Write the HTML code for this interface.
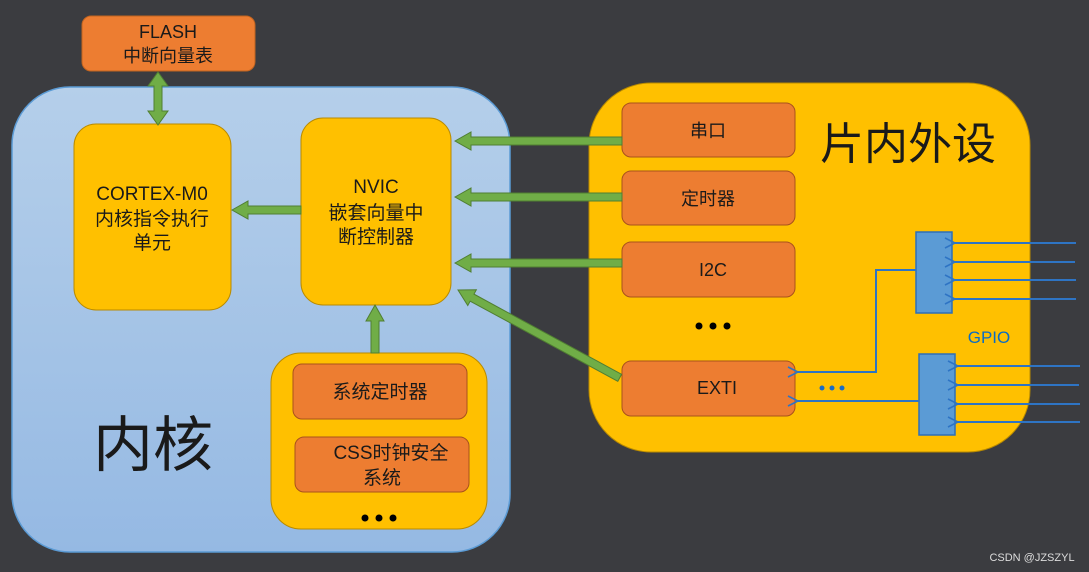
<!DOCTYPE html>
<html><head><meta charset="utf-8"><style>
body{margin:0;background:#3b3c40;}
svg{display:block}
text{font-family:"Liberation Sans","Noto Sans CJK SC",sans-serif;fill:#1a1a1a;text-anchor:middle}
</style></head><body>
<svg width="1089" height="572" viewBox="0 0 1089 572" xmlns="http://www.w3.org/2000/svg">
<defs>
<linearGradient id="bg" x1="0" y1="0" x2="0" y2="1"><stop offset="0" stop-color="#b5cfea"/><stop offset="1" stop-color="#95b9e3"/></linearGradient>
<marker id="ch" markerWidth="12" markerHeight="12" refX="1" refY="6" orient="auto" markerUnits="userSpaceOnUse"><path d="M11,1 L1,6 L11,11" fill="none" stroke="#2e74c4" stroke-width="1.6"/></marker>
</defs>
<rect width="1089" height="572" fill="#3b3c40"/>
<!-- core -->
<rect x="12" y="87" width="498" height="465" rx="58" fill="url(#bg)" stroke="#5b9bd5" stroke-width="1.5"/>
<text x="153" y="466" font-size="60" fill="#000">内核</text>
<!-- FLASH -->
<rect x="82" y="16" width="173" height="55" rx="9" fill="#ed7d31" stroke="#c0631f"/>
<text x="168" y="38" font-size="18">FLASH</text>
<text x="168" y="62" font-size="18">中断向量表</text>
<!-- cortex -->
<rect x="74" y="124" width="157" height="186" rx="22" fill="#ffc000" stroke="#b88a00"/>
<text x="152" y="200" font-size="19">CORTEX-M0</text>
<text x="152" y="225" font-size="19">内核指令执行</text>
<text x="152" y="249" font-size="19">单元</text>
<!-- NVIC -->
<rect x="301" y="118" width="150" height="187" rx="22" fill="#ffc000" stroke="#b88a00"/>
<text x="376" y="193" font-size="19">NVIC</text>
<text x="376" y="219" font-size="19">嵌套向量中</text>
<text x="376" y="243" font-size="19">断控制器</text>
<!-- sys -->
<rect x="271" y="353" width="216" height="176" rx="30" fill="#ffc000" stroke="#b88a00"/>
<rect x="293" y="364" width="174" height="55" rx="9" fill="#ed7d31" stroke="#a9521c"/>
<text x="380" y="398" font-size="19">系统定时器</text>
<rect x="295" y="437" width="174" height="55" rx="9" fill="#ed7d31" stroke="#a9521c"/>
<text x="391" y="459" font-size="19">CSS时钟安全</text>
<text x="382" y="484" font-size="19">系统</text>
<circle cx="365" cy="518" r="3.5" fill="#000"/><circle cx="379" cy="518" r="3.5" fill="#000"/><circle cx="393" cy="518" r="3.5" fill="#000"/>
<!-- peripherals -->
<rect x="589" y="83" width="441" height="369" rx="62" fill="#ffc000" stroke="#b88a00"/>
<text x="908" y="159" font-size="44" fill="#000">片内外设</text>
<rect x="622" y="103" width="173" height="54" rx="9" fill="#ed7d31" stroke="#a9521c"/>
<text x="708" y="137" font-size="18">串口</text>
<rect x="622" y="171" width="173" height="54" rx="9" fill="#ed7d31" stroke="#a9521c"/>
<text x="708" y="205" font-size="18">定时器</text>
<rect x="622" y="242" width="173" height="55" rx="9" fill="#ed7d31" stroke="#a9521c"/>
<text x="713" y="276" font-size="18">I2C</text>
<circle cx="699" cy="326" r="3.5" fill="#000"/><circle cx="713" cy="326" r="3.5" fill="#000"/><circle cx="727" cy="326" r="3.5" fill="#000"/>
<rect x="622" y="361" width="173" height="55" rx="9" fill="#ed7d31" stroke="#a9521c"/>
<text x="717" y="394" font-size="18">EXTI</text>
<!-- GPIO -->
<rect x="916" y="232" width="36" height="81" fill="#5b9bd5" stroke="#2e6fb8" stroke-width="1.5"/>
<rect x="919" y="354" width="36" height="81" fill="#5b9bd5" stroke="#2e6fb8" stroke-width="1.5"/>
<text x="989" y="343" font-size="17" fill="#0a6cc4" style="fill:#0a6cc4">GPIO</text>
<g stroke="#2e74c4" stroke-width="2" fill="none">
<line x1="1076" y1="243" x2="955" y2="243" marker-end="url(#ch)"/>
<line x1="1075" y1="262" x2="955" y2="262" marker-end="url(#ch)"/>
<line x1="1076" y1="280" x2="955" y2="280" marker-end="url(#ch)"/>
<line x1="1076" y1="299" x2="955" y2="299" marker-end="url(#ch)"/>
<line x1="1080" y1="366" x2="958" y2="366" marker-end="url(#ch)"/>
<line x1="1079" y1="385" x2="958" y2="385" marker-end="url(#ch)"/>
<line x1="1080" y1="404" x2="958" y2="404" marker-end="url(#ch)"/>
<line x1="1080" y1="422" x2="958" y2="422" marker-end="url(#ch)"/>
<polyline points="916,270 876,270 876,372 798,372" marker-end="url(#ch)"/>
<line x1="919" y1="401" x2="798" y2="401" marker-end="url(#ch)"/>
</g>
<circle cx="822" cy="388" r="2.5" fill="#1a6cc4"/><circle cx="832" cy="388" r="2.5" fill="#1a6cc4"/><circle cx="842" cy="388" r="2.5" fill="#1a6cc4"/>
<!-- green arrows -->
<g fill="#70ad47" stroke="#507e32" stroke-width="1">
<polygon transform="translate(455,141)" points="0,0 16,-9 16,-4 167,-4 167,4 16,4 16,9"/>
<polygon transform="translate(455,197)" points="0,0 16,-9 16,-4 167,-4 167,4 16,4 16,9"/>
<polygon transform="translate(455,263)" points="0,0 16,-9 16,-4 167,-4 167,4 16,4 16,9"/>
<polygon transform="translate(232,210)" points="0,0 16,-9 16,-4 69,-4 69,4 16,4 16,9"/>
<polygon transform="translate(375,305) rotate(90)" points="0,0 16,-9 16,-4 48,-4 48,4 16,4 16,9"/>
<polygon transform="translate(458,290) rotate(28.5)" points="0,0 16,-9 16,-4 184,-4 184,4 16,4 16,9"/>
<polygon points="158,72 168,86 162,86 162,111 168,111 158,125 148,111 154,111 154,86 148,86"/>
</g>
<text x="1032" y="561" font-size="11" fill="#ddd" style="fill:#ddd">CSDN @JZSZYL</text>
</svg>
</body></html>
